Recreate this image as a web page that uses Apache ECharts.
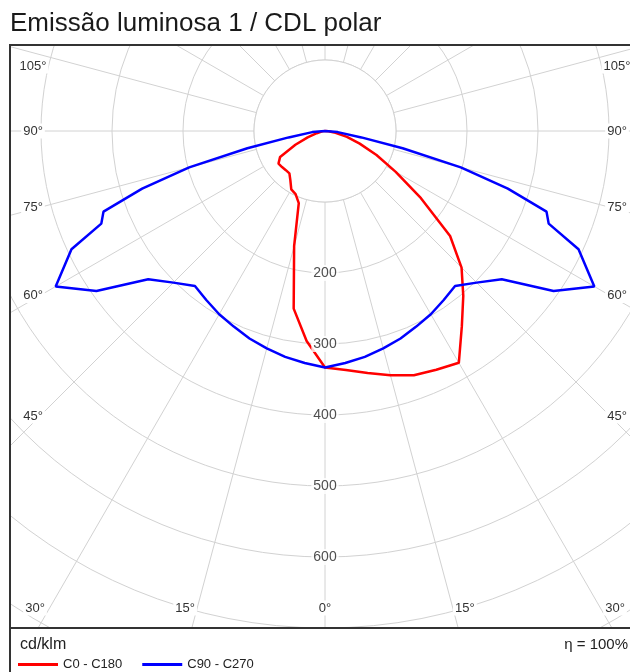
<!DOCTYPE html>
<html><head><meta charset="utf-8">
<script src="https://cdn.jsdelivr.net/npm/echarts@6/dist/echarts.min.js"></script>
<style>html,body{margin:0;padding:0;background:#fff}#c{width:630px;height:672px}</style>
</head><body><div id="c"></div>
<script>
// ---------- data ----------
const titleText = 'Emissão luminosa 1 / CDL polar';
const unitText = 'cd/klm';
const effText = 'η = 100%';
const seriesNames = ['C0 - C180', 'C90 - C270'];

const redAngles = [0,5,10,15,20,25,30,35,40,45,50,55,60,65,70,75,80,85,90];
const redC0   = [333,338,346,356,366,371,377,336,303,272,230,165,115,80,52,32,15,5,0];
const redC180 = [333,297,254,168,108,98,95,85,78,78,79,80,73,46,26,12,5,2,0];

const blueAngles = [0,5,10,15,20,25,30,35,40,45,50,55,60,65,67.5,70,72.5,75,77.5,80,85,90];
const blueC90  = [333,328,323,317,311,304,298,291,285,302,325,393,438,394,341,332,270,198,112,52,18,0];
const blueC270 = [333,328,323,317,311,304,298,291,285,302,325,393,438,394,341,332,270,198,112,52,18,0];

const ringTicks = [200,300,400,500,600];
const sideAngleTicks = [105,90,75,60,45];
const bottomAngleTicks = [30,15,0];

// ---------- layout ----------
const CX = 325, CY = 131, PXU = 0.71, RMAX = 900;
const FL = 10, FT = 45, FR = 640, FB = 628, H = 672;
const FONT = '"Liberation Sans", Arial, sans-serif';
const GRID = '#d2d2d2';

function half(angles, values, side) {
  const pts = angles.map((a, i) => [values[i], side === 'right' ? 360 - a : a]);
  return side === 'right' ? pts.reverse() : pts;
}
const redData = half(redAngles, redC0, 'right').concat(half(redAngles, redC180, 'left'));
const blueData = half(blueAngles, blueC90, 'right').concat(half(blueAngles, blueC270, 'left'));

const rad = d => d * Math.PI / 180;
const txt = [];
function label(text, x, y) {
  txt.push({type:'text', z: 11, style:{text, x, y, fill:'#333', font:'13px ' + FONT,
    textAlign:'center', textVerticalAlign:'middle', backgroundColor:'#fff', padding:[1,2]}});
}
sideAngleTicks.forEach(g => {
  let y = CY + (CX - 40) / Math.tan(rad(g));
  if (Math.abs(g - 90) < 1e-9) y = CY;
  y = Math.max(y, FT + 21);
  label(g + '°', FL + 23, y);
  label(g + '°', FR - 23, y);
});
bottomAngleTicks.forEach(g => {
  const d = 522 * Math.tan(rad(g));
  const y = FB - 20;
  if (g === 0) { label('0°', CX, y); return; }
  label(g + '°', Math.max(CX - d, FL + 25), y);
  label(g + '°', Math.min(CX + d, FR - 25), y);
});

const chart = echarts.init(document.getElementById('c'), null, {renderer:'canvas'});
chart.setOption({
  animation: false,
  backgroundColor: '#fff',
  polar: { center: [CX, CY], radius: RMAX * PXU },
  angleAxis: { type:'value', min:0, max:360, interval:15, startAngle:270, clockwise:true,
    axisLine:{show:false}, axisTick:{show:false}, axisLabel:{show:false},
    splitLine:{show:true, lineStyle:{color:GRID, width:1}} },
  radiusAxis: { type:'value', min:0, max:RMAX, interval:100,
    axisLine:{show:false}, axisTick:{show:false}, axisLabel:{show:false},
    splitLine:{show:true, lineStyle:{color:GRID, width:1}} },
  legend: { data: seriesNames, left: 13, top: 653, icon:'rect', itemWidth:40, itemHeight:3,
    itemGap:20, z: 20, textStyle:{fontSize:13, color:'#222', fontFamily:FONT} },
  series: [
    { name: seriesNames[0], type:'line', coordinateSystem:'polar', data: redData,
      symbol:'none', z:3, lineStyle:{color:'#ff0000', width:2.5}, itemStyle:{color:'#ff0000'} },
    { name: seriesNames[1], type:'line', coordinateSystem:'polar', data: blueData,
      symbol:'none', z:4, lineStyle:{color:'#0000ff', width:2.5}, itemStyle:{color:'#0000ff'} },
    { type:'scatter', coordinateSystem:'polar', data: ringTicks.map(v => [v, 0]), symbolSize:0, z:5,
      label:{show:true, position:'inside', formatter: p => String(p.value[0]), color:'#222',
        fontSize:14, fontFamily:FONT, backgroundColor:'#fff', padding:[1,2]} }
  ],
  graphic: { elements: [
    { type:'circle', z:1, shape:{cx:CX, cy:CY, r:100*PXU}, style:{fill:'#fff', stroke:GRID, lineWidth:1} },
    { type:'rect', z:10, shape:{x:0, y:0, width:630, height:FT}, style:{fill:'#fff'} },
    { type:'rect', z:10, shape:{x:0, y:0, width:FL, height:H}, style:{fill:'#fff'} },
    { type:'rect', z:10, shape:{x:0, y:FB, width:630, height:H-FB}, style:{fill:'#fff'} },
    { type:'rect', z:12, shape:{x:FL, y:FT, width:FR-FL, height:FB-FT}, style:{fill:'none', stroke:'#333', lineWidth:2} },
    { type:'rect', z:12, shape:{x:FL, y:FB, width:FR-FL, height:H-FB+10}, style:{fill:'none', stroke:'#333', lineWidth:2} },
    { type:'text', z:12, style:{text:titleText, x:10, y:24, fill:'#1a1a1a', font:'26px ' + FONT, textVerticalAlign:'middle'} },
    { type:'text', z:12, style:{text:unitText, x:20, y:645, fill:'#222', font:'16px ' + FONT, textVerticalAlign:'middle'} },
    { type:'text', z:12, style:{text:effText, x:628, y:645, fill:'#222', font:'15px ' + FONT, textAlign:'right', textVerticalAlign:'middle'} }
  ].concat(txt) }
});
</script></body></html>
